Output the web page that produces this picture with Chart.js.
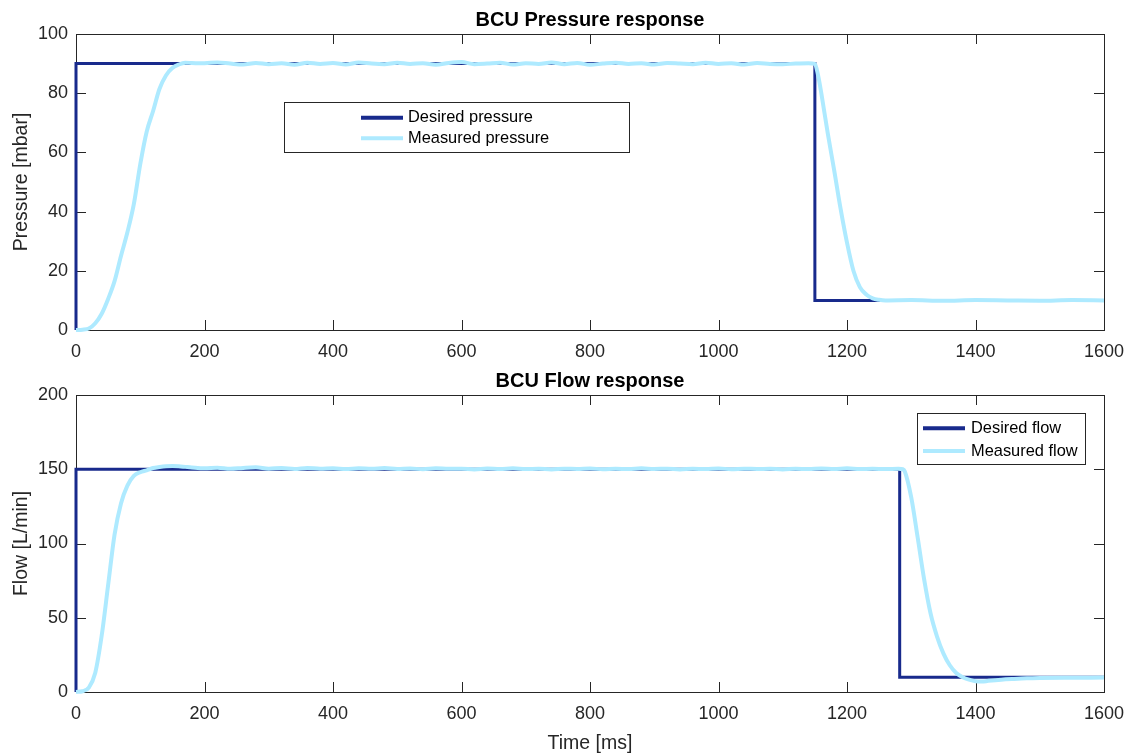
<!DOCTYPE html>
<html>
<head>
<meta charset="utf-8">
<script src="https://cdn.jsdelivr.net/npm/chart.js@4.4.0/dist/chart.umd.min.js"></script>
<style>
  html, body { margin: 0; padding: 0; background: #fff; }
  #wrap { position: relative; width: 1134px; height: 755px; overflow: hidden; }
  canvas { position: absolute; left: 0; }
  #pressureChart { top: 0; }
  #flowChart { top: 365px; }
</style>
</head>
<body>
<div id="wrap">
  <canvas id="pressureChart" width="1134" height="365"></canvas>
  <canvas id="flowChart" width="1134" height="390"></canvas>
</div>
<script>
// ---- data ----
const desiredPressureTime = [0, 0, 1150, 1150, 1600];
const desiredPressure = [0, 90, 90, 10, 10];

const measuredPressureTime = [
  0, 10, 20, 30, 40, 50, 60, 70, 80, 90, 100, 110, 120, 130, 140, 150, 160, 170,
  180, 200, 220, 240, 260, 280, 300, 320, 340, 360, 380, 400, 420, 440, 460, 480,
  500, 520, 540, 560, 580, 600, 620, 640, 660, 680, 700, 720, 740, 760, 780, 800,
  820, 840, 860, 880, 900, 920, 940, 960, 980, 1000, 1020, 1040, 1060, 1080, 1100,
  1120, 1140,
  1150, 1155, 1160, 1170, 1180, 1190, 1200, 1210, 1220, 1230, 1240, 1250, 1260,
  1300, 1350, 1400, 1450, 1500, 1550, 1600
];
const measuredPressure = [
  0, 0.1, 0.5, 2.3, 5.5, 10.5, 16.5, 25, 33, 42.5, 56, 67, 74, 81.5, 86, 88.5, 89.7, 90.3,
  90.2, 90.1, 90.4, 90.0, 89.7, 90.2, 89.8, 90.1, 89.6, 90.3,
  89.9, 90.2, 89.7, 90.4, 90.0, 89.8, 90.3, 89.9, 90.1, 89.6,
  90.2, 90.5, 89.8, 90.0, 90.3, 89.7, 90.1, 89.9, 90.4, 89.8,
  90.2, 89.6, 90.0, 90.3, 89.9, 90.1, 89.7, 90.2, 90.0, 89.8,
  90.3, 89.9, 90.1, 89.7, 90.2, 89.9, 89.8, 90.0, 90.1,
  89.9, 86, 80, 66.5, 54, 41, 29.5, 20, 14.5, 12, 10.7, 10.2, 10,
  10.1, 9.9, 10.1, 10, 9.9, 10.1, 10
];

const desiredFlowTime = [0, 0, 1282, 1282, 1600];
const desiredFlow = [0, 150, 150, 10, 10];

const measuredFlowTime = [
  0, 10, 20, 30, 40, 50, 60, 70, 80, 90, 100, 110, 120, 130, 140, 150, 160, 170,
  180, 200, 220, 240, 260, 280, 300, 320, 340, 360, 380, 400, 420, 440, 460, 480,
  500, 520, 540, 560, 580, 600, 620, 640, 660, 680, 700, 720, 740, 760, 780, 800,
  820, 840, 860, 880, 900, 920, 940, 960, 980, 1000, 1020, 1040, 1060, 1080, 1100,
  1120, 1140, 1160, 1180, 1200, 1220, 1240, 1260,
  1280, 1287, 1290, 1300, 1310, 1320, 1330, 1340, 1350, 1360, 1370, 1380, 1390,
  1400, 1410, 1420, 1440, 1460, 1480, 1500, 1550, 1600
];
const measuredFlow = [
  0, 0.5, 3, 13, 38, 72, 106, 127, 139, 145.5, 148, 149.3, 150.8, 151.5, 152, 152.2, 152, 151.6,
  151.2, 150.6, 151.0, 150.3, 150.9, 151.3, 150.4, 150.8, 150.2, 150.9,
  150.4, 150.7, 150.1, 150.6, 150.3, 150.8, 150.2, 150.5, 150.0, 150.6,
  150.3, 150.4, 149.9, 150.5, 150.2, 150.6, 150.1, 150.3, 149.9, 150.4,
  150.2, 150.5, 150.0, 150.3, 150.1, 150.6, 150.2, 150.4, 149.9, 150.3,
  150.1, 150.5, 150.0, 150.4, 150.2, 150.3, 149.9, 150.4, 150.1, 150.5,
  150.2, 150.6, 150.1, 150.3, 150.2,
  150.3, 150, 148.5, 131, 104, 76, 53, 37.5, 26, 18, 12.8, 10, 8.3,
  7.2, 7, 7.5, 8.3, 8.8, 9.2, 9.4, 9.6, 9.7
];

const timeTicks = { min: 0, max: 1600, step: 200 };
const pressureTicks = { min: 0, max: 100, step: 20 };
const flowTicks = { min: 0, max: 200, step: 50 };

// ---- style ----
const DARK_BLUE = '#182a8c';
const LIGHT_BLUE = '#aeeaff';
const AXIS = '#262626';
const FONT = "'Liberation Sans', Arial, sans-serif";

const zip = (xs, ys) => xs.map((x, i) => ({ x, y: ys[i] }));

// box around the plot area plus inward tick marks on all four sides
const boxTicks = {
  id: 'boxTicks',
  beforeDatasetsDraw(chart) {
    const { ctx, chartArea: a, scales } = chart;
    ctx.save();
    ctx.strokeStyle = AXIS;
    ctx.lineWidth = 1;
    ctx.strokeRect(a.left + 0.5, a.top + 0.5, a.width, a.height);
    ctx.beginPath();
    scales.x.ticks.forEach(t => {
      const px = Math.round(scales.x.getPixelForValue(t.value)) + 0.5;
      ctx.moveTo(px, a.bottom); ctx.lineTo(px, a.bottom - 10);
      ctx.moveTo(px, a.top); ctx.lineTo(px, a.top + 10);
    });
    scales.y.ticks.forEach(t => {
      const py = Math.round(scales.y.getPixelForValue(t.value)) + 0.5;
      ctx.moveTo(a.left, py); ctx.lineTo(a.left + 10, py);
      ctx.moveTo(a.right, py); ctx.lineTo(a.right - 10, py);
    });
    ctx.stroke();
    ctx.restore();
  }
};

// MATLAB-like legend box at a fixed spot
const boxLegend = {
  id: 'boxLegend',
  afterDatasetsDraw(chart, args, opts) {
    const { ctx } = chart;
    const [l, t, r, b] = opts.box;
    ctx.save();
    ctx.fillStyle = '#fff';
    ctx.fillRect(l, t, r - l, b - t);
    ctx.strokeStyle = AXIS;
    ctx.lineWidth = 1;
    ctx.strokeRect(l + 0.5, t + 0.5, r - l, b - t);
    ctx.font = `16.4px ${FONT}`;
    ctx.textBaseline = 'middle';
    ctx.fillStyle = '#000';
    chart.data.datasets.forEach((ds, i) => {
      const y = opts.rows[i];
      ctx.strokeStyle = ds.borderColor;
      ctx.lineWidth = 4;
      ctx.beginPath();
      ctx.moveTo(opts.lineX[0], y); ctx.lineTo(opts.lineX[1], y);
      ctx.stroke();
      ctx.fillText(ds.label, opts.textX, y);
    });
    ctx.restore();
  }
};

function makeChart(id, cfg) {
  return new Chart(document.getElementById(id), {
    type: 'line',
    data: {
      datasets: [
        {
          label: cfg.labels[0], data: cfg.desired,
          borderColor: DARK_BLUE, borderWidth: 3, pointRadius: 0,
          tension: 0, order: 1, clip: 5,
        },
        {
          label: cfg.labels[1], data: cfg.measured,
          borderColor: LIGHT_BLUE, borderWidth: 4, pointRadius: 0,
          cubicInterpolationMode: 'monotone', order: 0, clip: 5,
        },
      ],
    },
    options: {
      responsive: false, animation: false, devicePixelRatio: 1,
      layout: { padding: { left: 0, right: 30, top: 0, bottom: 0 } },
      plugins: {
        legend: { display: false },
        tooltip: { enabled: false },
        title: {
          display: true, text: cfg.title, fullSize: false, color: '#000',
          font: { family: FONT, size: 20, weight: 'bold' },
          padding: cfg.titlePad,
        },
        boxLegend: cfg.legend,
      },
      scales: {
        x: {
          type: 'linear', min: timeTicks.min, max: timeTicks.max,
          grid: { display: false }, border: { display: false },
          ticks: { stepSize: timeTicks.step, color: AXIS, padding: 3, maxRotation: 0,
                   format: { useGrouping: false },
                   font: { family: FONT, size: 18 } },
          title: {
            display: !!cfg.xTitle, text: cfg.xTitle || '', color: AXIS,
            font: { family: FONT, size: 19.5 }, padding: { top: 0, bottom: 0 },
          },
          afterFit: s => { s.height = cfg.xHeight; },
        },
        y: {
          min: cfg.yTicks.min, max: cfg.yTicks.max,
          grid: { display: false }, border: { display: false },
          ticks: { stepSize: cfg.yTicks.step, color: AXIS, padding: 0,
                   font: { family: FONT, size: 18 } },
          title: {
            display: true, text: cfg.yTitle, color: AXIS,
            font: { family: FONT, size: 19.5 }, padding: { top: 10, bottom: 0 },
          },
          afterFit: s => { s.width = 76; },
        },
      },
    },
    plugins: [boxTicks, boxLegend],
  });
}

makeChart('pressureChart', {
  title: 'BCU Pressure response',
  titlePad: { top: 8, bottom: 2 },
  labels: ['Desired pressure', 'Measured pressure'],
  desired: zip(desiredPressureTime, desiredPressure),
  measured: zip(measuredPressureTime, measuredPressure),
  yTicks: pressureTicks,
  yTitle: 'Pressure [mbar]',
  xHeight: 35,
  legend: { box: [284, 102, 629, 152], lineX: [361, 403], textX: 408, rows: [117.7, 138.3] },
});

makeChart('flowChart', {
  title: 'BCU Flow response',
  titlePad: { top: 4, bottom: 2 },
  labels: ['Desired flow', 'Measured flow'],
  desired: zip(desiredFlowTime, desiredFlow),
  measured: zip(measuredFlowTime, measuredFlow),
  yTicks: flowTicks,
  yTitle: 'Flow [L/min]',
  xTitle: 'Time [ms]',
  xHeight: 63,
  legend: { box: [917, 48, 1085, 99], lineX: [923, 965], textX: 971, rows: [63.3, 86] },
});
</script>
</body>
</html>
